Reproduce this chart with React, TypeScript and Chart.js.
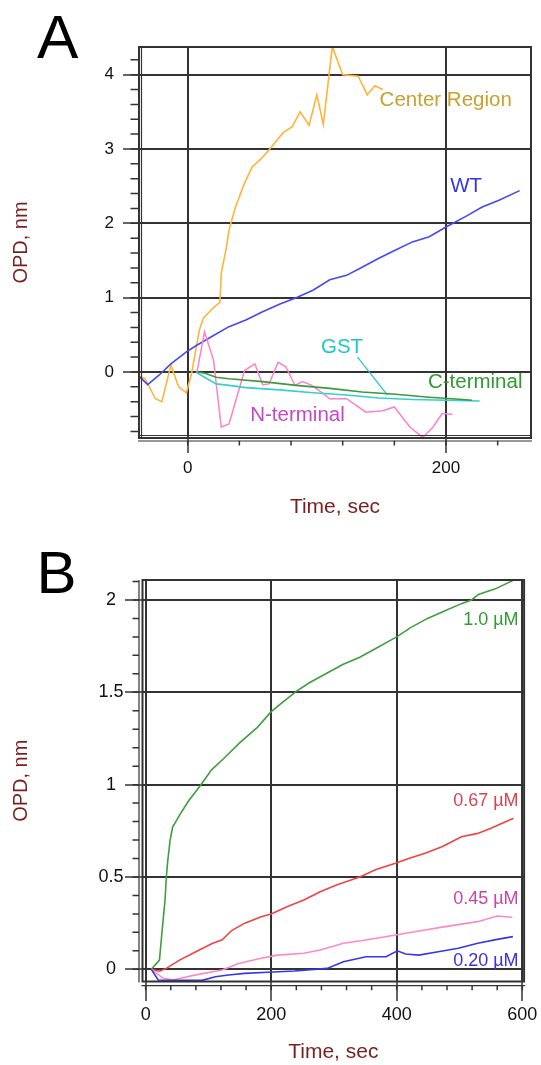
import React, { useEffect, useRef } from 'react';
import { Chart, registerables } from 'chart.js';

Chart.register(...registerables);

const FONT = '"Liberation Sans", Arial, Helvetica, sans-serif';
const AXIS = '#333333';
const TITLE_COLOR = '#7a1e1e';

// ---------- Panel A data (Time, sec / OPD, nm) ----------
const A_CENTER_T = [-37, -33, -25, -20, -13, -7, -1, 3, 9, 12, 19, 25, 26, 30, 32, 37, 44, 50, 57, 65, 74, 81, 87, 94, 100, 105, 112, 120, 132, 139, 145, 151];
const A_CENTER_OPD = [-0.06, -0.09, -0.36, -0.4, 0.09, -0.2, -0.28, -0.02, 0.56, 0.72, 0.85, 0.94, 1.33, 1.68, 1.91, 2.22, 2.54, 2.76, 2.87, 3.03, 3.22, 3.3, 3.5, 3.32, 3.73, 3.33, 4.38, 4.0, 3.98, 3.73, 3.85, 3.8];

const A_WT_T = [-37, -31, -22, -13, -1, 7, 20, 32, 45, 58, 71, 84, 97, 110, 123, 135, 148, 161, 174, 187, 200, 215, 228, 241, 257];
const A_WT_OPD = [-0.07, -0.17, -0.04, 0.11, 0.27, 0.36, 0.49, 0.61, 0.7, 0.81, 0.91, 1.0, 1.1, 1.24, 1.3, 1.41, 1.53, 1.64, 1.75, 1.82, 1.95, 2.09, 2.22, 2.31, 2.44];

const A_GST_T = [7, 13, 22, 32, 45, 71, 97, 123, 148, 174, 200, 226];
const A_GST_OPD = [-0.01, -0.07, -0.16, -0.18, -0.21, -0.24, -0.28, -0.31, -0.35, -0.37, -0.38, -0.39];

const A_CTERM_T = [8, 14, 22, 32, 58, 84, 110, 135, 161, 187, 213, 220];
const A_CTERM_OPD = [0.0, -0.02, -0.07, -0.09, -0.13, -0.18, -0.22, -0.27, -0.3, -0.34, -0.37, -0.38];

const A_NTERM_T = [7, 13, 20, 26, 32, 44, 52, 58, 63, 70, 76, 83, 89, 96, 105, 110, 123, 138, 151, 160, 172, 182, 190, 197, 205];
const A_NTERM_OPD = [-0.02, 0.54, 0.16, -0.74, -0.7, 0.02, 0.11, -0.17, -0.16, 0.13, 0.07, -0.18, -0.13, -0.18, -0.29, -0.36, -0.36, -0.54, -0.52, -0.47, -0.74, -0.88, -0.74, -0.56, -0.57];

const A_GST_LEADER_T = [131.5, 154.7];
const A_GST_LEADER_OPD = [0.2, -0.31];

const A_X_TICKS = [0, 200];
const A_Y_TICKS = [0, 1, 2, 3, 4];
const A_X_MINOR = 40;
const A_Y_MINOR = 0.2;

const A_LABEL_TEXT = ['Center Region', 'WT', 'GST', 'C-terminal', 'N-terminal'];
const A_LABEL_T = [148.6, 203.3, 103.2, 186, 48.4];
const A_LABEL_OPD = [3.65, 2.5, 0.33, -0.14, -0.585];
const A_LABEL_COLOR = ['#c9a02c', '#3535e0', '#1ec8c8', '#2f9a2f', '#c845c8'];

// ---------- Panel B data ----------
const B_T_10 = [9, 22, 26, 31, 33, 35, 39, 43, 55, 68, 86, 105, 124, 151, 178, 200, 216, 240, 260, 287, 314, 341, 368, 389, 400, 422, 449, 476, 503, 519, 530, 557, 588];
const B_OPD_10 = [0.0, 0.05, 0.2, 0.38, 0.5, 0.58, 0.7, 0.77, 0.84, 0.91, 0.99, 1.08, 1.14, 1.23, 1.31, 1.395, 1.44, 1.505, 1.55, 1.6, 1.65, 1.69, 1.74, 1.78, 1.8, 1.85, 1.9, 1.94, 1.98, 2.0, 2.03, 2.06, 2.11];

const B_T_067 = [9, 22, 33, 54, 80, 106, 122, 137, 158, 184, 200, 226, 252, 278, 304, 341, 367, 398, 419, 445, 472, 503, 529, 550, 586];
const B_OPD_067 = [0, -0.01, 0.005, 0.05, 0.095, 0.14, 0.16, 0.21, 0.25, 0.285, 0.3, 0.34, 0.375, 0.42, 0.457, 0.5, 0.54, 0.574, 0.6, 0.628, 0.664, 0.718, 0.736, 0.764, 0.818];

const B_T_045 = [9, 28, 43, 80, 122, 148, 184, 210, 252, 278, 315, 351, 398, 445, 477, 529, 560, 584];
const B_OPD_045 = [0, -0.049, -0.058, -0.03, -0.004, 0.032, 0.06, 0.077, 0.087, 0.105, 0.141, 0.159, 0.186, 0.213, 0.231, 0.258, 0.289, 0.282];

const B_T_020 = [9, 20, 38, 90, 111, 132, 158, 195, 237, 289, 315, 351, 383, 401, 414, 435, 466, 498, 529, 560, 585];
const B_OPD_020 = [0, -0.058, -0.06, -0.06, -0.04, -0.031, -0.022, -0.016, -0.009, 0.005, 0.041, 0.068, 0.068, 0.1, 0.083, 0.077, 0.095, 0.114, 0.141, 0.162, 0.177];

const B_X_TICKS = [0, 200, 400, 600];
const B_Y_TICKS = [0, 0.5, 1, 1.5, 2];
const B_X_MINOR = 40;
const B_Y_MINOR = 0.1;

const B_LABEL_TEXT = ['1.0 µM', '0.67 µM', '0.45 µM', '0.20 µM'];
const B_LABEL_T = [594, 594, 594, 594];
const B_LABEL_OPD = [1.892, 0.911, 0.383, 0.045];
const B_LABEL_COLOR = ['#339933', '#d64450', '#c845a8', '#3a30dc'];

const pts = (xs: number[], ys: number[]) => xs.map((x, i) => ({ x, y: ys[i] }));

const line = (data: any[], color: string, width = 1.5) => ({
  data,
  borderColor: color,
  backgroundColor: color,
  borderWidth: width,
  pointRadius: 0,
  pointHoverRadius: 0,
  fill: false,
  tension: 0,
});

type PanelCfg = {
  letter: string;
  letterSize: number;
  letterX: number;
  letterY: number;
  xMinor: number;
  yMinor: number;
  xMinorFrom: number;
  xMinorTo: number;
  yMinorFrom: number;
  yMinorTo: number;
  xAxisOff: number;
  yAxisOff: number | null;
  innerDouble: boolean;
  labels: { text: string[]; t: number[]; v: number[]; color: string[]; size: number; align: CanvasTextAlign };
};

const decor = (cfg: PanelCfg) => ({
  id: 'decor',
  afterDraw(chart: any) {
    const { ctx, chartArea: ca } = chart;
    const x = chart.scales.x;
    const y = chart.scales.y;
    ctx.save();
    ctx.strokeStyle = AXIS;
    // minor ticks
    ctx.lineWidth = 1.5;
    ctx.beginPath();
    for (let v = Math.ceil(x.min / cfg.xMinor - 1e-9) * cfg.xMinor; v <= x.max + 1e-9; v += cfg.xMinor) {
      const px = x.getPixelForValue(v);
      ctx.moveTo(px, ca.bottom + cfg.xMinorFrom);
      ctx.lineTo(px, ca.bottom + cfg.xMinorTo);
    }
    for (let v = Math.ceil(y.min / cfg.yMinor - 1e-9) * cfg.yMinor; v <= y.max + 1e-9; v += cfg.yMinor) {
      const py = y.getPixelForValue(v);
      ctx.moveTo(ca.left - cfg.yMinorFrom, py);
      ctx.lineTo(ca.left - cfg.yMinorTo, py);
    }
    ctx.stroke();
    // frame
    ctx.lineWidth = 2;
    ctx.strokeRect(ca.left, ca.top, ca.right - ca.left, ca.bottom - ca.top);
    ctx.lineWidth = 1.2;
    ctx.beginPath();
    if (cfg.innerDouble) {
      ctx.moveTo(ca.left + 2.5, ca.top);
      ctx.lineTo(ca.left + 2.5, ca.bottom);
      ctx.moveTo(ca.left, ca.bottom - 2.5);
      ctx.lineTo(ca.right, ca.bottom - 2.5);
    }
    // separate axis lines
    ctx.moveTo(ca.left - 1, ca.bottom + cfg.xAxisOff);
    ctx.lineTo(ca.right + 1, ca.bottom + cfg.xAxisOff);
    if (cfg.yAxisOff !== null) {
      ctx.moveTo(ca.left - cfg.yAxisOff, ca.top);
      ctx.lineTo(ca.left - cfg.yAxisOff, ca.bottom + 1);
    }
    ctx.stroke();
    // series labels
    const L = cfg.labels;
    ctx.font = `${L.size}px ${FONT}`;
    ctx.textBaseline = 'middle';
    ctx.textAlign = L.align;
    L.text.forEach((txt, i) => {
      ctx.fillStyle = L.color[i];
      ctx.fillText(txt, x.getPixelForValue(L.t[i]), y.getPixelForValue(L.v[i]));
    });
    // panel letter
    ctx.font = `${cfg.letterSize}px ${FONT}`;
    ctx.textBaseline = 'alphabetic';
    ctx.textAlign = 'left';
    ctx.fillStyle = '#000000';
    ctx.fillText(cfg.letter, cfg.letterX, cfg.letterY);
    ctx.restore();
  },
});

type ScaleCfg = {
  min: number; max: number; ticks: number[]; size: number; tickLen: number; pad: number; fontSize: number; cross?: string; titlePad: any;
};

const buildConfig = (datasets: any[], xs: ScaleCfg, ys: ScaleCfg, padding: any, cfg: PanelCfg): any => ({
  type: 'line',
  data: { datasets },
  options: {
    responsive: false,
    animation: false,
    devicePixelRatio: 1,
    layout: { padding },
    plugins: { legend: { display: false }, tooltip: { enabled: false }, title: { display: false } },
    scales: {
      x: {
        type: 'linear',
        min: xs.min,
        max: xs.max,
        afterBuildTicks: (s: any) => { s.ticks = xs.ticks.map((v) => ({ value: v })); },
        afterFit: (s: any) => { s.height = xs.size; },
        border: { display: false },
        grid: { color: AXIS, lineWidth: 2, drawTicks: true, tickLength: xs.tickLen, tickColor: AXIS, tickWidth: 1.5 },
        ticks: { color: '#111', padding: xs.pad, maxRotation: 0, autoSkip: false, font: { family: FONT, size: xs.fontSize }, callback: (v: any) => String(v) },
        title: { display: true, text: 'Time, sec', color: TITLE_COLOR, font: { family: FONT, size: 21 }, padding: xs.titlePad },
      },
      y: {
        type: 'linear',
        min: ys.min,
        max: ys.max,
        afterBuildTicks: (s: any) => { s.ticks = ys.ticks.map((v) => ({ value: v })); },
        afterFit: (s: any) => { s.width = ys.size; },
        border: { display: false },
        grid: { color: AXIS, lineWidth: 2, drawTicks: true, tickLength: ys.tickLen, tickColor: AXIS, tickWidth: 1.5 },
        ticks: { color: '#111', padding: ys.pad, crossAlign: ys.cross || 'near', autoSkip: false, font: { family: FONT, size: ys.fontSize }, callback: (v: any) => String(v) },
        title: { display: true, text: 'OPD, nm', color: TITLE_COLOR, font: { family: FONT, size: 20 }, padding: ys.titlePad },
      },
    },
  },
  plugins: [decor(cfg)],
});

const configA = () =>
  buildConfig(
    [
      line(pts(A_CTERM_T, A_CTERM_OPD), '#3b9a3b', 1.6),
      line(pts(A_GST_T, A_GST_OPD), '#33d0d0', 1.6),
      line(pts(A_GST_LEADER_T, A_GST_LEADER_OPD), '#22c8c8', 1.2),
      line(pts(A_NTERM_T, A_NTERM_OPD), '#ff80c8', 1.5),
      line(pts(A_WT_T, A_WT_OPD), '#4848f0', 1.6),
      line(pts(A_CENTER_T, A_CENTER_OPD), '#ffb43c', 1.6),
    ],
    { min: -37.7, max: 265.8, ticks: A_X_TICKS, size: 82, tickLen: 15, pad: 5.5, fontSize: 17, titlePad: { top: 0, bottom: 0 } },
    { min: -0.888, max: 4.372, ticks: A_Y_TICKS, size: 139, tickLen: 16, pad: 9, fontSize: 17, titlePad: { top: 9.6, bottom: 0 } },
    { left: 0, top: 47, right: 10, bottom: 0 },
    {
      letter: 'A', letterSize: 62, letterX: 37, letterY: 58.3,
      xMinor: A_X_MINOR, yMinor: A_Y_MINOR,
      xMinorFrom: 2.7, xMinorTo: 7.5, yMinorFrom: 8.5, yMinorTo: 0,
      xAxisOff: 3, yAxisOff: null, innerDouble: true,
      labels: { text: A_LABEL_TEXT, t: A_LABEL_T, v: A_LABEL_OPD, color: A_LABEL_COLOR, size: 20.5, align: 'left' },
    }
  );

const configB = () =>
  buildConfig(
    [
      line(pts(B_T_020, B_OPD_020), '#3636ee', 1.6),
      line(pts(B_T_045, B_OPD_045), '#ff88c8', 1.6),
      line(pts(B_T_067, B_OPD_067), '#f04444', 1.6),
      line(pts(B_T_10, B_OPD_10), '#3f9f3f', 1.6),
    ],
    { min: -5, max: 602.8, ticks: B_X_TICKS, size: 83.5, tickLen: 19.5, pad: 3.6, fontSize: 18, titlePad: { top: 0, bottom: 0 } },
    { min: -0.066, max: 2.108, ticks: B_Y_TICKS, size: 142.5, tickLen: 17.5, pad: 1.5, fontSize: 18, cross: 'center', titlePad: { top: 9.6, bottom: 0 } },
    { left: 0, top: 60, right: 10.5, bottom: 0 },
    {
      letter: 'B', letterSize: 60, letterX: 36.6, letterY: 73,
      xMinor: B_X_MINOR, yMinor: B_Y_MINOR,
      xMinorFrom: 4.2, xMinorTo: 8.8, yMinorFrom: 10, yMinorTo: 3.5,
      xAxisOff: 4.2, yAxisOff: 3.5, innerDouble: false,
      labels: { text: B_LABEL_TEXT, t: B_LABEL_T, v: B_LABEL_OPD, color: B_LABEL_COLOR, size: 18, align: 'right' },
    }
  );

function Panel({ top, height, make }: { top: number; height: number; make: () => any }) {
  const ref = useRef<HTMLCanvasElement | null>(null);
  useEffect(() => {
    if (!ref.current) return;
    const chart = new Chart(ref.current, make());
    return () => chart.destroy();
  }, [make]);
  return (
    <canvas
      ref={ref}
      width={541}
      height={height}
      style={{ position: 'absolute', left: 0, top, width: 541, height, display: 'block' }}
    />
  );
}

export default function App() {
  return (
    <div style={{ position: 'absolute', left: 0, top: 0, width: 541, height: 1065, background: '#ffffff', overflow: 'hidden' }}>
      <Panel top={0} height={520} make={configA} />
      <Panel top={520} height={545} make={configB} />
    </div>
  );
}
